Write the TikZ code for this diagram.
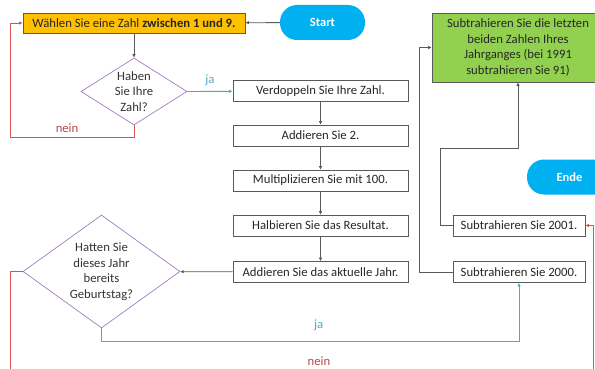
\documentclass[tikz,border=0pt]{standalone}
\usepackage{fontspec}
\setmainfont{Carlito}
\usetikzlibrary{shapes.geometric,arrows.meta}

\definecolor{startblue}{HTML}{00B0F0}
\definecolor{wahlyellow}{HTML}{FFC000}
\definecolor{letztgreen}{HTML}{92D050}
\definecolor{jacyan}{HTML}{4BACC6}
\definecolor{neinred}{HTML}{D9534F}
\definecolor{askpurple}{HTML}{A27BC4}
\definecolor{linegray}{HTML}{595959}

\begin{document}
\begin{tikzpicture}[x=1pt,y=-1pt,
    font=\fontsize{12.7}{15.5}\selectfont,
    >={Latex[length=3.5pt,width=3.5pt]},
    stepbox/.style={draw=linegray,line width=0.8pt,minimum height=21pt,inner sep=0pt,text=black!85},
    termbox/.style={fill=startblue,rounded corners=17pt,minimum width=85pt,minimum height=35pt,text=white,font=\fontsize{12.5}{14}\selectfont\bfseries},
    askbox/.style={diamond,draw=askpurple,line width=0.7pt,inner sep=0pt},
    arr/.style={->,draw=linegray,line width=0.8pt},
    jaline/.style={->,draw=jacyan,line width=0.9pt},
    neinline/.style={->,draw=neinred,line width=0.9pt},
    jatext/.style={text=jacyan,inner sep=0pt},
    neintext/.style={text=neinred!85!black,inner sep=0pt}]
  \useasboundingbox (0,0) rectangle (595,369);

  % Start und Eingabe
  \node[termbox] (start) at (322.5,22.5) {Start};
  \node[stepbox,fill=wahlyellow,minimum width=222pt,minimum height=20pt] (wahl) at (134,23)
    {Wählen Sie eine Zahl \textbf{zwischen 1 und 9.}};
  \node[askbox,minimum width=106pt,minimum height=67pt,
    label={[align=center,text=black!80]center:Haben\\Sie Ihre\\Zahl?}] (hab) at (134,91.5) {};

  % Rechenschritte
  \node[stepbox,minimum width=175pt] (verd) at (320.5,91) {Verdoppeln Sie Ihre Zahl.};
  \node[stepbox,minimum width=175pt] (add2) at (320.5,135.5) {Addieren Sie 2.};
  \node[stepbox,minimum width=175pt] (mult) at (320.5,180.5) {Multiplizieren Sie mit 100.};
  \node[stepbox,minimum width=175pt] (halb) at (320.5,225.5) {Halbieren Sie das Resultat.};
  \node[stepbox,minimum width=175pt] (jahr) at (320.5,272) {Addieren Sie das aktuelle Jahr.};

  \node[askbox,minimum width=157pt,minimum height=113pt,
    label={[align=center,text=black!80]center:Hatten Sie\\dieses Jahr\\bereits\\Geburtstag?}] (geb) at (101.5,271.5) {};

  % rechte Spalte
  \node[stepbox,minimum width=132pt] (s2000) at (519,272) {Subtrahieren Sie 2000.};
  \node[stepbox,minimum width=132pt] (s2001) at (519,225.5) {Subtrahieren Sie 2001.};
  \node[stepbox,fill=letztgreen,draw=linegray,minimum width=172pt,minimum height=69pt,align=center] (letzt) at (518,47.5)
    {Subtrahieren Sie die letzten\\beiden Zahlen Ihres\\Jahrganges (bei 1991\\subtrahieren Sie 91)};
  \node[termbox] (ende) at (569.5,177) {Ende};

  % Verbindungen
  \draw[arr] (start) -- (wahl);
  \draw[arr] (wahl) -- (hab);
  \draw[jaline] (hab.east) -- node[above=5pt,jatext] {ja} (verd);
  \draw[neinline] (hab.south) |- node[pos=0.77,above=4pt,neintext] {nein} (10,137) |- (wahl.west);
  \draw[arr] (verd) -- (add2);
  \draw[arr] (add2) -- (mult);
  \draw[arr] (mult) -- (halb);
  \draw[arr] (halb) -- (jahr);
  \draw[arr] (jahr) -- (geb);
  \draw[jaline] (geb.south) -- ++(0,13) -| node[pos=0.26,above=10pt,jatext] {ja} (s2000);
  \draw[neinline] (geb.west) -| (10,376) -- node[pos=0.53,above=10pt,neintext] {nein} (593,376) |- (s2001.east);
  \draw[arr] (s2000.west) -- ++(-33,0) |- (letzt.west);
  \draw[arr] (s2001.west) -- ++(-12,0) -- ++(0,-77.5) -| (letzt.south);
\end{tikzpicture}
\end{document}
